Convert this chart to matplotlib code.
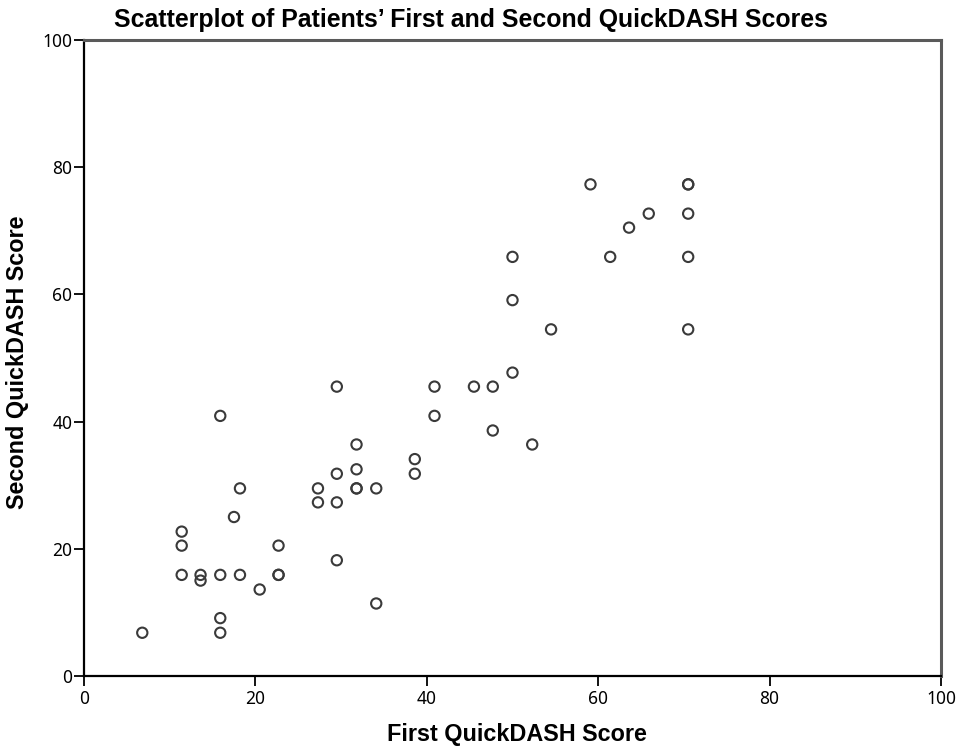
import matplotlib
matplotlib.use("Agg")
import matplotlib.pyplot as plt

# First and second QuickDASH scores for each patient
first_score = [
    6.8, 11.4, 11.4, 11.4, 13.6, 13.6, 15.9, 15.9, 15.9, 15.9,
    17.5, 18.2, 18.2, 20.5, 22.7, 22.7, 22.7, 27.3, 27.3, 29.5,
    29.5, 29.5, 29.5, 31.8, 31.8, 31.8, 31.8, 34.1, 34.1, 38.6,
    38.6, 40.9, 40.9, 45.5, 47.7, 47.7, 50.0, 50.0, 50.0, 52.3,
    54.5, 59.1, 61.4, 63.6, 65.9, 70.5, 70.5, 70.5, 70.5, 70.5,
]
second_score = [
    6.8, 22.7, 20.5, 15.9, 15.9, 15.0, 40.9, 15.9, 9.1, 6.8,
    25.0, 29.5, 15.9, 13.6, 20.5, 15.9, 15.9, 29.5, 27.3, 45.5,
    31.8, 27.3, 18.2, 36.4, 32.5, 29.5, 29.5, 29.5, 11.4, 34.1,
    31.8, 45.5, 40.9, 45.5, 45.5, 38.6, 65.9, 59.1, 47.7, 36.4,
    54.5, 77.3, 65.9, 70.5, 72.7, 77.3, 77.3, 72.7, 65.9, 54.5,
]

x_ticks = [0, 20, 40, 60, 80, 100]
y_ticks = [0, 20, 40, 60, 80, 100]

W, H = 961, 752
fig = plt.figure(figsize=(W / 100, H / 100), dpi=100)
ax = fig.add_axes([84 / W, 1 - 676 / H, (941 - 84) / W, (676 - 40) / H])

ax.scatter(first_score, second_score, s=55, facecolors="none",
           edgecolors="#3a3a3a", linewidths=1.5, zorder=3, clip_on=False)

ax.set_xlim(0, 100)
ax.set_ylim(0, 100)
ax.set_xticks(x_ticks)
ax.set_yticks(y_ticks)

narrow = dict(family="Noto Sans", stretch="condensed")
ax.set_xticklabels([str(t) for t in x_ticks], fontsize=12.5, **narrow)
ax.set_yticklabels([str(t) for t in y_ticks], fontsize=12.5, **narrow)
ax.tick_params(axis="both", direction="out", length=7.5, width=1.3,
               color="black")
ax.tick_params(axis="x", pad=2.5)
ax.tick_params(axis="y", pad=0.8)

for side in ("left", "bottom"):
    ax.spines[side].set_color("black")
    ax.spines[side].set_linewidth(1.6)
for side in ("top", "right"):
    ax.spines[side].set_color("#5a5a5a")
    ax.spines[side].set_linewidth(2.2)

fig.text(471 / W, 1 - 27 / H,
         "Scatterplot of Patients\u2019 First and Second QuickDASH Scores",
         ha="center", va="baseline", fontsize=17.9, fontweight="bold",
         family="Liberation Sans")
fig.text(517 / W, 1 - 735 / H, "First QuickDASH Score",
         ha="center", va="center", fontsize=16.8, fontweight="bold",
         family="Liberation Sans")
fig.text(18 / W, 1 - 362 / H, "Second QuickDASH Score",
         ha="center", va="center", rotation=90, fontsize=16.8,
         fontweight="bold", family="Liberation Sans")

fig.savefig("out.png", dpi=100)
